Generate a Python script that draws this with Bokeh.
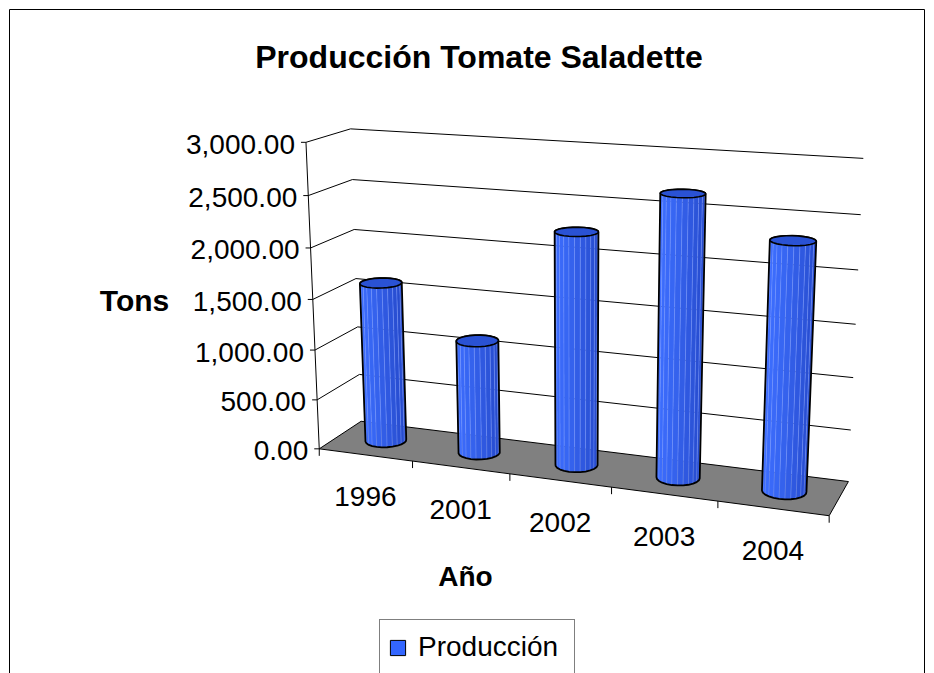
import numpy as np
from bokeh.plotting import figure
from bokeh.models import Range1d, Label, Legend, LegendItem, ColumnDataSource, BoxAnnotation
from bokeh.core.properties import value
from bokeh.embed import file_html
from bokeh.resources import INLINE

# ---------------- data ----------------
chart_title = "Producción Tomate Saladette"
categories = ["1996", "2001", "2002", "2003", "2004"]
production = [1600, 1120, 2250, 2670, 2320]
value_ticks = [0, 500, 1000, 1500, 2000, 2500, 3000]
value_tick_labels = [f"{t:,.2f}" for t in value_ticks]
y_title = "Tons"
x_title = "Año"
series_name = "Producción"

# ---------------- 3-D view (Excel style: rotation, elevation, perspective) ----------------
W, H = 934, 673
ROT = np.radians(20.0)
ELEV = np.radians(15.0)
DIST = 15.0          # perspective distance (category widths)
SCALE = 108.5        # pixels per category width
CX, CY = 576.0, 311.0
DEPTH = 0.88         # depth of the plot box, in category widths
HGT = 3.0            # height of the value axis, in category widths
VMAX = float(value_ticks[-1])
NCAT = len(categories)
FONT = "Liberation Sans"
BAR_R = 0.2          # cylinder radius (gap width 150%)


def project(u, d, v):
    u = np.asarray(u, float); d = np.asarray(d, float); v = np.asarray(v, float)
    X = u - NCAT / 2.0
    Y = v / VMAX * HGT - HGT / 2.0
    Z = d * DEPTH - DEPTH / 2.0
    x1 = X * np.cos(ROT) + Z * np.sin(ROT)
    z1 = -X * np.sin(ROT) + Z * np.cos(ROT)
    y2 = Y * np.cos(ELEV) + z1 * np.sin(ELEV)
    z2 = -Y * np.sin(ELEV) + z1 * np.cos(ELEV)
    k = DIST / (DIST + z2)
    return CX + SCALE * x1 * k, CY - SCALE * y2 * k


def hull(px, py):
    pts = sorted(set(zip(np.round(px, 4), np.round(py, 4))))
    def cross(o, a, b):
        return (a[0] - o[0]) * (b[1] - o[1]) - (a[1] - o[1]) * (b[0] - o[0])
    lower, upper = [], []
    for q in pts:
        while len(lower) >= 2 and cross(lower[-2], lower[-1], q) <= 0:
            lower.pop()
        lower.append(q)
    for q in reversed(pts):
        while len(upper) >= 2 and cross(upper[-2], upper[-1], q) <= 0:
            upper.pop()
        upper.append(q)
    h = lower[:-1] + upper[:-1]
    return [q[0] for q in h], [q[1] for q in h]


p = figure(width=W, height=H, x_range=Range1d(0, W), y_range=Range1d(H, 0),
           output_backend="svg", toolbar_location=None,
           x_axis_location=None, y_axis_location=None, min_border=0)
p.outline_line_color = None
p.background_fill_color = "white"
p.border_fill_color = "white"
p.xgrid.grid_line_color = None
p.ygrid.grid_line_color = None

# chart area border (open at the bottom edge of the window)
p.add_layout(BoxAnnotation(left=9, right=924, top=9, bottom=H + 20, fill_alpha=0,
                           line_color="black", line_alpha=1.0, line_width=1))

# ---------------- walls: gridlines ----------------
gx, gy = [], []
for t in value_ticks[1:]:
    a = project([0, 0, NCAT], [0, 1, 1], [t, t, t])
    gx.append(list(a[0])); gy.append(list(a[1]))
p.multi_line(xs=gx, ys=gy, line_color="black", line_width=1)

# ---------------- floor ----------------
fx, fy = project([0, NCAT, NCAT, 0], [0, 0, 1, 1], [0, 0, 0, 0])
p.patch(x=list(fx), y=list(fy), fill_color="#808080", line_color="black", line_width=1)

# ---------------- value axis ----------------
ax, ay = project([0, 0], [0, 0], [0, VMAX])
p.line(x=list(ax), y=list(ay), line_color="black", line_width=1)
tx, ty = project(np.zeros(len(value_ticks)), np.zeros(len(value_ticks)), value_ticks)
p.segment(x0=tx - 5, y0=ty, x1=tx, y1=ty, line_color="black", line_width=1)
p.text(x=tx - 11, y=ty + 2, text=value_tick_labels, text_align="right", text_baseline="middle",
       text_font=value(FONT), text_font_size=value("28px"), text_color="black")

# ---------------- category axis ----------------
cu = np.arange(NCAT + 1)
cx_, cy_ = project(cu, np.zeros(NCAT + 1), np.zeros(NCAT + 1))
p.segment(x0=cx_, y0=cy_, x1=cx_, y1=cy_ + 7, line_color="black", line_width=1)
lx, ly = project(np.arange(NCAT) + 0.5, np.zeros(NCAT), np.zeros(NCAT))
p.text(x=lx, y=ly + 42, text=categories, text_align="center", text_baseline="middle",
       text_font=value(FONT), text_font_size=value("28px"), text_color="black")

# ---------------- cylinders ----------------
light = np.array([0x3D, 0x6E, 0xFF], float)
dark = np.array([0x24, 0x48, 0xC8], float)
nseg = 24
ang = np.linspace(0, 2 * np.pi, nseg + 1)
facet_xs, facet_ys, facet_cols = [], [], []
hull_xs, hull_ys, top_xs, top_ys = [], [], [], []
for i, val in enumerate(production):
    uu = i + 0.5 + BAR_R * np.cos(ang)
    dd = 0.5 + BAR_R / DEPTH * np.sin(ang)
    txp, typ = project(uu, dd, np.full_like(uu, val))
    bxp, byp = project(uu, dd, np.zeros_like(uu))
    for j in range(nseg):
        am = 0.5 * (ang[j] + ang[j + 1])
        nz = -np.cos(am) * np.sin(ROT) + np.sin(am) * np.cos(ROT)
        if nz >= 0:
            continue
        nx = np.cos(am) * np.cos(ROT) + np.sin(am) * np.sin(ROT)
        s = ((1 - nx) / 2.0) ** 0.8
        c = dark + (light - dark) * s
        facet_cols.append("#%02x%02x%02x" % tuple(int(round(q)) for q in c))
        facet_xs.append([txp[j], txp[j + 1], bxp[j + 1], bxp[j]])
        facet_ys.append([typ[j], typ[j + 1], byp[j + 1], byp[j]])
    hx, hy = hull(np.r_[txp, bxp], np.r_[typ, byp])
    hull_xs.append(hx); hull_ys.append(hy)
    top_xs.append(list(txp[:-1])); top_ys.append(list(typ[:-1]))

p.patches(xs=facet_xs, ys=facet_ys, fill_color=facet_cols, line_color="#7C9BFF",
          line_width=0.6, line_alpha=0.6)
p.patches(xs=hull_xs, ys=hull_ys, fill_color=None, line_color="black", line_width=1.8)
p.patches(xs=top_xs, ys=top_ys, fill_color="#2A52D4", line_color="black", line_width=1.6)

# ---------------- texts ----------------
p.add_layout(Label(x=478.5, y=56, text=chart_title, text_align="center", text_baseline="middle",
                   text_font=FONT, text_font_size="32px", text_font_style="bold",
                   text_color="black"))
p.add_layout(Label(x=134, y=300, text=y_title, text_align="center", text_baseline="middle",
                   text_font=FONT, text_font_size="30px", text_font_style="bold",
                   text_color="black"))
p.add_layout(Label(x=465, y=576, text=x_title, text_align="center", text_baseline="middle",
                   text_font=FONT, text_font_size="28px", text_font_style="bold",
                   text_color="black"))

# ---------------- legend ----------------
leg_src = ColumnDataSource(dict(l=[np.nan], r=[np.nan], t=[np.nan], b=[np.nan]))
leg_r = p.quad(left="l", right="r", top="t", bottom="b", source=leg_src,
               fill_color="#3366FF", line_color="black", line_width=1)
legend = Legend(items=[LegendItem(label=series_name, renderers=[leg_r])],
                location=(379, -2), orientation="vertical", padding=8, margin=0, spacing=0,
                glyph_width=19, glyph_height=19, label_standoff=11, label_height=38,
                label_width=148,
                label_text_font=FONT, label_text_font_size="28px", label_text_color="black",
                border_line_color="black", border_line_width=1,
                background_fill_color="white", background_fill_alpha=1.0)
p.add_layout(legend)

open("out.html", "w").write(file_html(p, INLINE))
